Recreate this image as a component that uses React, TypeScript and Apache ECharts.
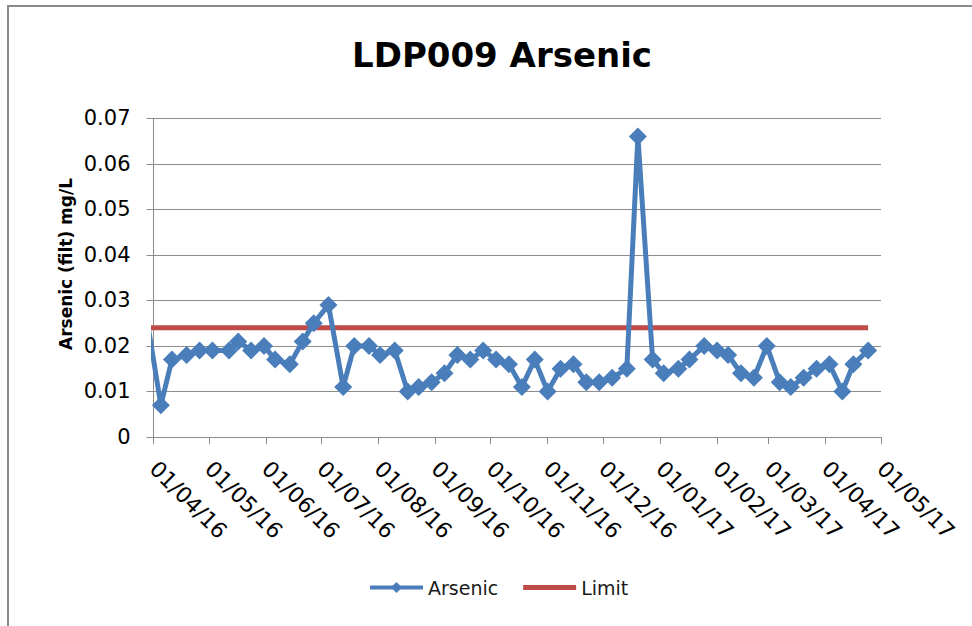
import React, { useEffect, useRef } from "react";
import * as echarts from "echarts";

const sampleDates: string[] = [
  "2016-03-28", "2016-04-05", "2016-04-11", "2016-04-19", "2016-04-26",
  "2016-05-03", "2016-05-12", "2016-05-17", "2016-05-24", "2016-05-31",
  "2016-06-06", "2016-06-14", "2016-06-21", "2016-06-27", "2016-07-05",
  "2016-07-13", "2016-07-19", "2016-07-27", "2016-08-02", "2016-08-10",
  "2016-08-17", "2016-08-23", "2016-08-30", "2016-09-06", "2016-09-13",
  "2016-09-20", "2016-09-27", "2016-10-04", "2016-10-11", "2016-10-18",
  "2016-10-25", "2016-11-01", "2016-11-08", "2016-11-15", "2016-11-22",
  "2016-11-29", "2016-12-06", "2016-12-14", "2016-12-20", "2016-12-28",
  "2017-01-03", "2017-01-11", "2017-01-17", "2017-01-25", "2017-02-01",
  "2017-02-07", "2017-02-14", "2017-02-21", "2017-02-28", "2017-03-07",
  "2017-03-13", "2017-03-20", "2017-03-27", "2017-04-03", "2017-04-10",
  "2017-04-16", "2017-04-24",
];

const arsenicValues: number[] = [
  0.027, 0.007, 0.017, 0.018, 0.019,
  0.019, 0.019, 0.021, 0.019, 0.020,
  0.017, 0.016, 0.021, 0.025, 0.029,
  0.011, 0.020, 0.020, 0.018, 0.019,
  0.010, 0.011, 0.012, 0.014, 0.018,
  0.017, 0.019, 0.017, 0.016, 0.011,
  0.017, 0.010, 0.015, 0.016, 0.012,
  0.012, 0.013, 0.015, 0.066, 0.017,
  0.014, 0.015, 0.017, 0.020, 0.019,
  0.018, 0.014, 0.013, 0.020, 0.012,
  0.011, 0.013, 0.015, 0.016, 0.010,
  0.016, 0.019,
];

const limitValue = 0.024;
const axisStart = "2016-04-01";
const axisEnd = "2017-05-01";
const yTicks: number[] = [0, 0.01, 0.02, 0.03, 0.04, 0.05, 0.06, 0.07];

const FONT = '"DejaVu Sans", "Liberation Sans", sans-serif';
const BLUE = "#4A7EBB";
const RED = "#BE4B48";
const GRID_GRAY = "#8C8C8C";

export default function App() {
  const ref = useRef<HTMLDivElement>(null);

  useEffect(() => {
    if (!ref.current) return;
    const chart = echarts.init(ref.current, undefined, { renderer: "svg" });
    const DAY = 86400000;
    const arsenicData = sampleDates.map((d, i) => [d, arsenicValues[i]]);
    const limitData = [
      [sampleDates[0], limitValue],
      [sampleDates[sampleDates.length - 1], limitValue],
    ];

    chart.setOption({
      animation: false,
      backgroundColor: "#ffffff",
      title: {
        text: "LDP009 Arsenic",
        left: 497,
        top: 33,
        textAlign: "center",
        textStyle: {
          fontFamily: FONT,
          fontWeight: "bold",
          fontSize: 34,
          color: "#000000",
        },
      },
      legend: {
        data: [
          { name: "Arsenic" },
          { name: "Limit", icon: "path://M0 0H53V5H0Z" },
        ],
        left: 368,
        top: 578,
        padding: 0,
        itemWidth: 53,
        itemHeight: 14,
        itemGap: 25,
        lineStyle: { width: 4 },
        textStyle: { fontFamily: FONT, fontSize: 19, color: "#1a1a1a" },
      },
      grid: { left: 153.5, right: 91, top: 118.3, bottom: 189, containLabel: false },
      xAxis: {
        type: "time",
        min: axisStart,
        max: axisEnd,
        splitNumber: 13,
        minInterval: 28 * DAY,
        maxInterval: 31 * DAY,
        axisLine: { show: true, lineStyle: { color: GRID_GRAY, width: 1 } },
        axisTick: { show: true, length: 7, lineStyle: { color: GRID_GRAY } },
        splitLine: { show: false },
        axisLabel: {
          rotate: -45,
          margin: 28,
          hideOverlap: false,
          showMinLabel: true,
          showMaxLabel: true,
          formatter: "{dd}/{MM}/{yy}",
          fontFamily: FONT,
          fontSize: 22,
          color: "#000000",
        },
      },
      yAxis: {
        type: "value",
        min: yTicks[0],
        max: yTicks[yTicks.length - 1],
        interval: 0.01,
        axisLine: { show: true, lineStyle: { color: GRID_GRAY, width: 1 } },
        axisTick: { show: true, length: 7, lineStyle: { color: GRID_GRAY } },
        splitLine: { show: true, lineStyle: { color: GRID_GRAY, width: 1 } },
        axisLabel: {
          margin: 23,
          fontFamily: FONT,
          fontSize: 21,
          color: "#000000",
          formatter: (v: number) => (v === 0 ? "0" : v.toFixed(2)),
        },
      },
      graphic: [
        {
          type: "rect",
          silent: true,
          shape: { x: 8, y: 6, width: 1000, height: 700 },
          style: { fill: "none", stroke: "#8A8A8A", lineWidth: 2 },
        },
        {
          type: "text",
          x: 66,
          y: 264,
          rotation: Math.PI / 2,
          style: {
            text: "Arsenic (filt) mg/L",
            fontFamily: FONT,
            fontWeight: "bold",
            fontSize: 17,
            fill: "#000000",
            align: "center",
            verticalAlign: "middle",
          },
        },
      ],
      series: [
        {
          name: "Arsenic",
          type: "line",
          data: arsenicData,
          clip: true,
          symbol: "diamond",
          symbolSize: 18,
          color: BLUE,
          lineStyle: { color: BLUE, width: 5 },
          itemStyle: { color: BLUE },
          z: 3,
        },
        {
          name: "Limit",
          type: "line",
          data: limitData,
          clip: true,
          symbol: "none",
          color: RED,
          lineStyle: { color: RED, width: 5 },
          itemStyle: { color: RED },
          z: 2,
        },
      ],
    });

    return () => chart.dispose();
  }, []);

  return (
    <div
      ref={ref}
      style={{ position: "fixed", left: 0, top: 0, width: 972, height: 626 }}
    />
  );
}
